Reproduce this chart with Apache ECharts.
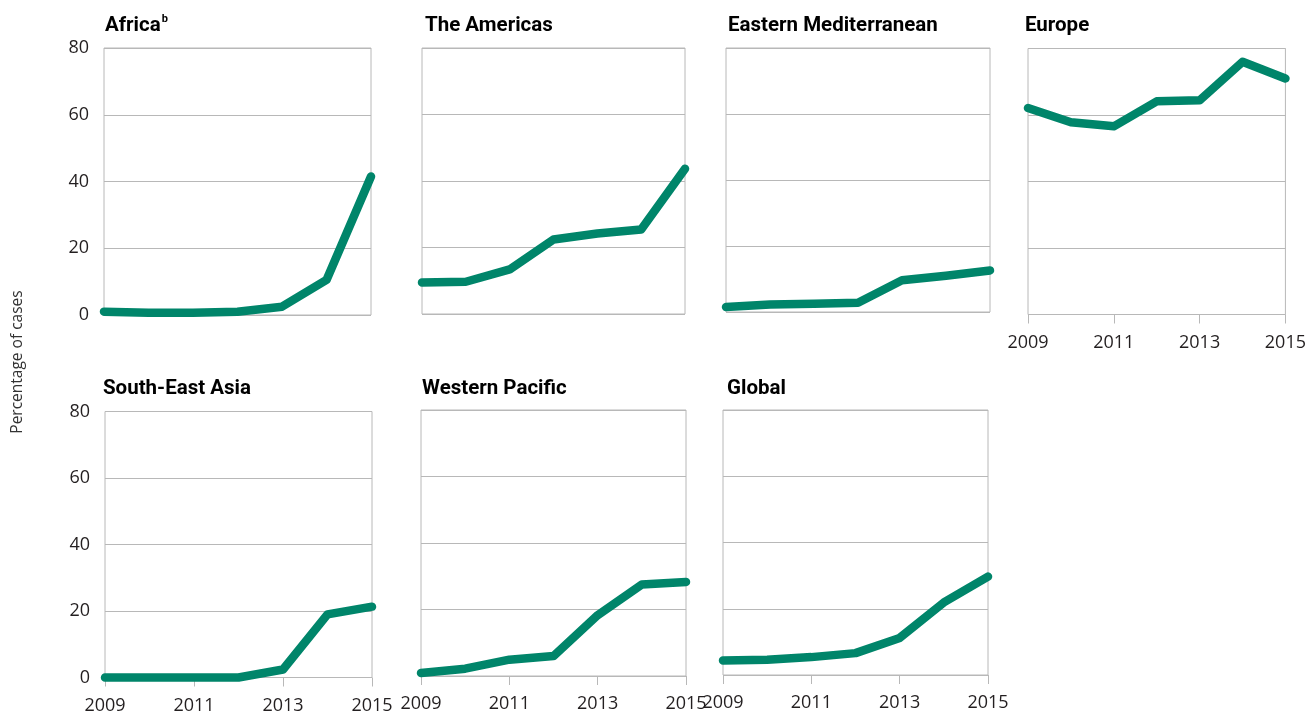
<!DOCTYPE html>
<html>
<head>
<meta charset="utf-8">
<script src="https://cdn.jsdelivr.net/npm/echarts@6/dist/echarts.min.js"></script>
<style>
html,body{margin:0;padding:0;background:#fff;}
#chart{width:1309px;height:715px;}
</style>
</head>
<body>
<div id="chart"></div>
<script>
const years = ['2009','2010','2011','2012','2013','2014','2015'];
const yTicks = [0, 20, 40, 60, 80];
const africa = [1.0, 0.7, 0.7, 1.0, 2.5, 10.5, 41.5];
const americas = [9.5, 9.7, 13.4, 22.4, 24.2, 25.4, 43.7];
const easternMed = [1.5, 2.3, 2.5, 2.8, 9.6, 11.0, 12.6];
const europe = [62.1, 57.8, 56.6, 64.1, 64.4, 76.0, 71.0];
const seAsia = [0, 0, 0, 0, 2.4, 19.0, 21.3];
const westernPacific = [0.9, 2.2, 4.9, 6.0, 18.3, 27.5, 28.3];
const globalVals = [4.4, 4.6, 5.4, 6.6, 11.2, 21.9, 29.7];

const panels = [
  {name:'Africa', sup:'b', data:africa, tl:105, left:104, top:48, width:267, height:267, yLabels:true, xLabels:false},
  {name:'The Americas', data:americas, tl:425, left:422, top:48, width:263, height:266, yLabels:false, xLabels:false},
  {name:'Eastern Mediterranean', data:easternMed, tl:728, left:726, top:48, width:264, height:264, yLabels:false, xLabels:false},
  {name:'Europe', data:europe, tl:1025, left:1028, top:48.5, width:265, height:266, yLabels:false, xLabels:true},
  {name:'South-East Asia', data:seAsia, tl:103, left:105, top:411.5, width:267, height:266, yLabels:true, xLabels:true},
  {name:'Western Pacific', data:westernPacific, tl:422, left:421, top:410, width:265, height:266, yLabels:false, xLabels:true},
  {name:'Global', data:globalVals, tl:727, left:723, top:410, width:265, height:265, yLabels:false, xLabels:true}
];

const GRIDC = '#b8b8b8';
const LINEC = '#00856a';
const labelFont = 'Open Sans';

const option = {
  animation:false,
  backgroundColor:'#fff',
  title:[], grid:[], xAxis:[], yAxis:[], series:[],
  graphic:[{
    type:'text', x:18, y:362, rotation:Math.PI/2,
    style:{text:'Percentage of cases', fill:'#333', font:'15.5px "Open Sans"', textAlign:'center', textVerticalAlign:'middle'}
  }]
};

panels.forEach((p,i)=>{
  const titleText = p.sup ? '{a|'+p.name+'}{s|'+p.sup+'}' : '{a|'+p.name+'}';
  option.title.push({
    text:titleText, left:p.tl, top:p.top < 100 ? 14 : 377, padding:0,
    textStyle:{rich:{
      a:{fontFamily:'Roboto', fontWeight:'bold', fontSize:20.5, color:'#000', lineHeight:24},
      s:{fontFamily:'Roboto', fontWeight:'bold', fontSize:11, color:'#000', verticalAlign:'top', lineHeight:24, padding:[0,0,8,1]}
    }}
  });
  option.grid.push({left:p.left, top:p.top, width:p.width, height:p.height, show:true, borderColor:GRIDC, borderWidth:1, backgroundColor:'transparent'});
  option.xAxis.push({
    type:'category', gridIndex:i, data:years, boundaryGap:false,
    axisLine:{show:false},
    axisTick:{show:p.xLabels, interval:1, length:9, lineStyle:{color:GRIDC, width:1}},
    axisLabel:{show:p.xLabels, interval:1, margin:19, fontFamily:labelFont, fontSize:18, color:'#231f20'},
    splitLine:{show:false}
  });
  option.yAxis.push({
    type:'value', gridIndex:i, min:yTicks[0], max:yTicks[yTicks.length-1], interval:20,
    axisLine:{show:false}, axisTick:{show:false},
    axisLabel:{show:p.yLabels, margin:15, fontFamily:labelFont, fontSize:18, color:'#231f20'},
    splitLine:{show:true, lineStyle:{color:GRIDC, width:1}}
  });
  option.series.push({
    type:'line', xAxisIndex:i, yAxisIndex:i, data:p.data, showSymbol:false, clip:false,
    lineStyle:{color:LINEC, width:8.5, cap:'round', join:'round'}, silent:true
  });
});

const chart = echarts.init(document.getElementById('chart'), null, {renderer:'canvas'});
chart.setOption(option);
</script>
</body>
</html>
